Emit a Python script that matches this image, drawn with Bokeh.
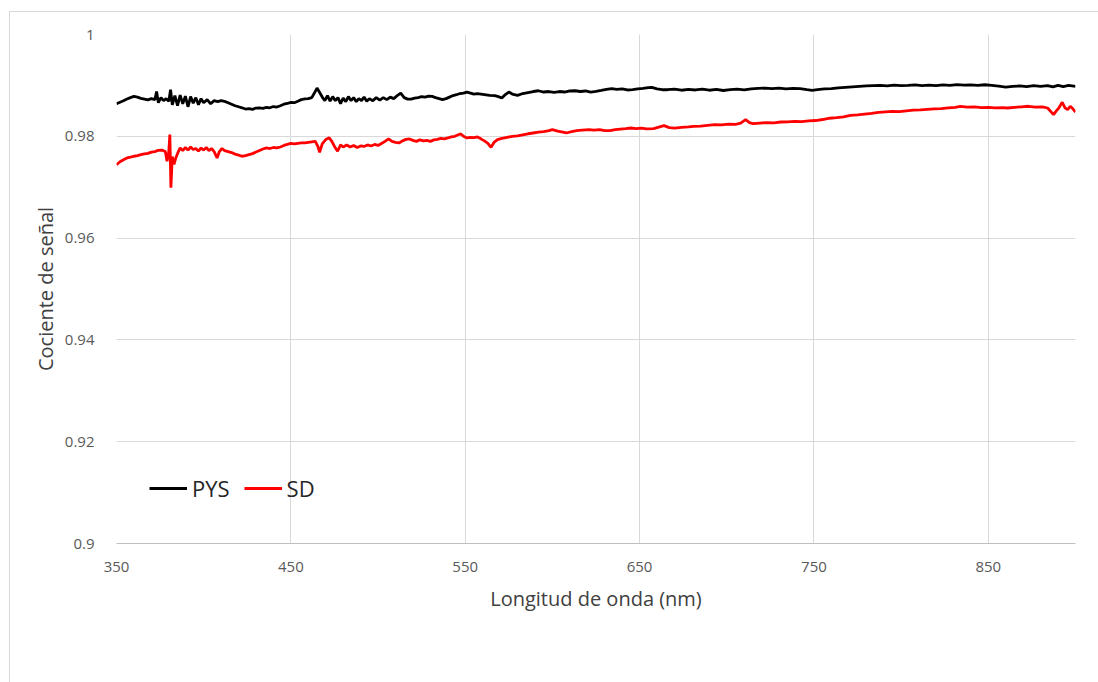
from bokeh.plotting import figure
from bokeh.models import FixedTicker, CustomJSTickFormatter, Legend, LegendItem
from bokeh.embed import file_html
from bokeh.resources import INLINE

# ---------------- data ----------------
pys_wl = [350, 352, 354, 356, 358, 360, 362, 364, 366, 368, 370, 372, 373, 374, 375.5, 377, 378.5, 380, 381, 382,
          383.5, 385, 386.5, 388, 389.5, 391, 392.5, 394, 395.5, 397, 398.5, 400, 402, 404, 406, 408, 410, 412, 414, 416,
          418, 420, 422, 424, 426, 428, 430, 432, 434, 436, 438, 440, 442, 444, 446, 448, 450, 452, 454, 456,
          458, 460, 462, 463.5, 465, 466.5, 468, 469.5, 471, 472.5, 474, 475.5, 477, 478.5, 480, 481.5, 483, 484.5, 486, 487.5,
          489, 490.5, 492, 493.5, 495, 497, 499, 501, 503, 505, 507, 509, 511, 513, 515, 517, 519, 521, 523, 525,
          527, 529, 531, 533, 535, 537, 539, 541, 543, 545, 547, 549, 551, 553, 555, 557, 559, 562, 564, 567,
          569, 571, 573, 575, 577, 580, 583, 586, 589, 592, 595, 598, 601, 604, 607, 610, 613, 616, 619, 622,
          625, 628, 631, 634, 637, 640, 643, 646, 649, 652, 655, 657, 660, 663, 666, 670, 674, 678, 682, 686,
          690, 694, 698, 702, 706, 710, 714, 718, 722, 726, 730, 734, 738, 742, 746, 749, 752, 756, 760, 764,
          768, 772, 776, 780, 784, 788, 792, 796, 800, 804, 808, 812, 816, 820, 824, 828, 832, 836, 840, 844,
          848, 852, 856, 860, 864, 868, 872, 876, 880, 884, 887, 890, 893, 896, 900]
pys = [0.98640, 0.98670, 0.98700, 0.98732, 0.98760, 0.98784, 0.98770, 0.98745, 0.98730, 0.98715, 0.98740, 0.98720, 0.98880, 0.98660, 0.98760, 0.98700, 0.98740, 0.98690, 0.98915, 0.98620,
       0.98800, 0.98600, 0.98810, 0.98640, 0.98790, 0.98580, 0.98780, 0.98650, 0.98760, 0.98620, 0.98740, 0.98660, 0.98720, 0.98640, 0.98700, 0.98680, 0.98700, 0.98686, 0.98660, 0.98630,
       0.98600, 0.98580, 0.98560, 0.98536, 0.98545, 0.98530, 0.98555, 0.98560, 0.98550, 0.98570, 0.98560, 0.98585, 0.98575, 0.98600, 0.98630, 0.98645, 0.98665, 0.98660, 0.98690, 0.98720,
       0.98735, 0.98740, 0.98760, 0.98850, 0.98948, 0.98860, 0.98771, 0.98700, 0.98800, 0.98690, 0.98780, 0.98700, 0.98760, 0.98641, 0.98750, 0.98680, 0.98780, 0.98700, 0.98760, 0.98680,
       0.98740, 0.98700, 0.98770, 0.98690, 0.98740, 0.98700, 0.98760, 0.98710, 0.98760, 0.98720, 0.98770, 0.98740, 0.98800, 0.98849, 0.98760, 0.98730, 0.98732, 0.98750, 0.98760, 0.98780,
       0.98770, 0.98790, 0.98784, 0.98760, 0.98740, 0.98719, 0.98740, 0.98770, 0.98800, 0.98817, 0.98840, 0.98850, 0.98869, 0.98850, 0.98830, 0.98837, 0.98830, 0.98815, 0.98804, 0.98800,
       0.98780, 0.98752, 0.98820, 0.98869, 0.98830, 0.98804, 0.98840, 0.98860, 0.98880, 0.98895, 0.98870, 0.98880, 0.98863, 0.98880, 0.98870, 0.98890, 0.98895, 0.98880, 0.98890, 0.98870,
       0.98882, 0.98900, 0.98920, 0.98935, 0.98920, 0.98930, 0.98910, 0.98915, 0.98930, 0.98940, 0.98955, 0.98961, 0.98930, 0.98915, 0.98915, 0.98925, 0.98905, 0.98920, 0.98910, 0.98925,
       0.98905, 0.98920, 0.98900, 0.98915, 0.98925, 0.98910, 0.98930, 0.98940, 0.98948, 0.98935, 0.98945, 0.98930, 0.98940, 0.98935, 0.98915, 0.98902, 0.98915, 0.98930, 0.98935, 0.98950,
       0.98960, 0.98970, 0.98980, 0.98990, 0.98995, 0.99000, 0.98990, 0.99005, 0.98995, 0.99000, 0.99010, 0.98995, 0.99005, 0.98995, 0.99010, 0.99000, 0.99015, 0.99005, 0.99010, 0.99000,
       0.99013, 0.99000, 0.98985, 0.98967, 0.98980, 0.98990, 0.98975, 0.98995, 0.98980, 0.98995, 0.98970, 0.99000, 0.98975, 0.99000, 0.98980]

sd_wl = [350, 352, 354, 356, 358, 360, 362, 364, 366, 368, 370, 372, 374, 376, 378, 379, 380, 380.6, 381.2, 382,
         383, 384, 385.5, 386.5, 388, 389.5, 391, 392.5, 394, 395.5, 397, 398.5, 400, 401.5, 403, 404.5, 406, 407.7, 409, 410.5,
         412, 414, 416, 418, 420, 422, 424, 426, 428, 430, 432, 434, 436, 438, 440, 442, 444, 446, 448, 450,
         452, 454, 456, 458, 460, 462, 464, 465.5, 466.5, 468, 470, 472, 473.5, 475, 476.8, 478.5, 480, 482, 484, 486,
         488, 490, 492, 494, 496, 498, 500, 502, 504, 506, 508, 510, 512, 514, 516, 518, 520, 522, 524, 526,
         528, 530, 532, 534, 536, 538, 540, 542, 544, 546, 547.5, 549, 551, 553, 555, 557, 559, 561, 563, 564.8,
         566.5, 568.5, 571, 574, 577, 580, 583, 586, 589, 592, 595, 598, 600, 603, 606, 608, 611, 614, 617, 621,
         624, 627, 630, 633, 636, 639, 642, 645, 648, 651, 654, 658, 661, 664, 667, 670, 674, 678, 681, 685,
         689, 693, 697, 701, 705, 708, 710.8, 713, 715, 719, 723, 727, 731, 735, 739, 743, 747, 751, 755, 759,
         763, 767, 771, 775, 779, 783, 787, 791, 795, 799, 803, 807, 811, 815, 819, 823, 827, 831, 834, 838,
         842, 846, 850, 854, 858, 861, 865, 869, 873, 877, 881, 884, 886, 887.4, 889, 890.5, 892.4, 894, 895.5, 897,
         898.5, 900]
sd = [0.97440, 0.97500, 0.97540, 0.97575, 0.97590, 0.97608, 0.97620, 0.97640, 0.97655, 0.97665, 0.97690, 0.97700, 0.97725, 0.97730, 0.97700, 0.97510, 0.97700, 0.98033, 0.96990, 0.97600,
      0.97450, 0.97575, 0.97700, 0.97771, 0.97720, 0.97780, 0.97730, 0.97790, 0.97740, 0.97760, 0.97710, 0.97770, 0.97730, 0.97780, 0.97720, 0.97760, 0.97700, 0.97575, 0.97700, 0.97760,
      0.97720, 0.97700, 0.97680, 0.97650, 0.97630, 0.97608, 0.97620, 0.97640, 0.97660, 0.97690, 0.97720, 0.97750, 0.97771, 0.97760, 0.97780, 0.97771, 0.97790, 0.97820, 0.97840, 0.97860,
      0.97850, 0.97860, 0.97870, 0.97870, 0.97880, 0.97890, 0.97900, 0.97800, 0.97686, 0.97850, 0.97935, 0.97970, 0.97900, 0.97800, 0.97706, 0.97830, 0.97790, 0.97830, 0.97790, 0.97820,
      0.97780, 0.97810, 0.97800, 0.97830, 0.97810, 0.97840, 0.97820, 0.97860, 0.97900, 0.97948, 0.97900, 0.97880, 0.97869, 0.97910, 0.97940, 0.97948, 0.97920, 0.97900, 0.97930, 0.97910,
      0.97920, 0.97900, 0.97930, 0.97940, 0.97960, 0.97950, 0.97967, 0.97990, 0.98000, 0.98030, 0.98046, 0.98000, 0.97967, 0.97980, 0.97975, 0.97987, 0.97950, 0.97910, 0.97860, 0.97784,
      0.97880, 0.97935, 0.97960, 0.97980, 0.98000, 0.98010, 0.98030, 0.98050, 0.98065, 0.98080, 0.98090, 0.98110, 0.98131, 0.98100, 0.98080, 0.98065, 0.98090, 0.98110, 0.98120, 0.98131,
      0.98120, 0.98130, 0.98110, 0.98111, 0.98130, 0.98140, 0.98150, 0.98163, 0.98150, 0.98160, 0.98145, 0.98150, 0.98180, 0.98210, 0.98170, 0.98160, 0.98175, 0.98185, 0.98196, 0.98200,
      0.98215, 0.98230, 0.98225, 0.98240, 0.98235, 0.98260, 0.98327, 0.98270, 0.98249, 0.98260, 0.98270, 0.98265, 0.98281, 0.98285, 0.98295, 0.98290, 0.98305, 0.98310, 0.98330, 0.98355,
      0.98365, 0.98380, 0.98410, 0.98420, 0.98435, 0.98450, 0.98470, 0.98480, 0.98490, 0.98485, 0.98500, 0.98515, 0.98520, 0.98530, 0.98540, 0.98545, 0.98560, 0.98570, 0.98588, 0.98575,
      0.98580, 0.98565, 0.98570, 0.98560, 0.98565, 0.98556, 0.98570, 0.98580, 0.98590, 0.98575, 0.98580, 0.98556, 0.98480, 0.98425, 0.98500, 0.98560, 0.98667, 0.98560, 0.98523, 0.98590,
      0.98540, 0.98477]

x_ticks = [350, 450, 550, 650, 750, 850]
y_ticks = [0.9, 0.92, 0.94, 0.96, 0.98, 1.0]
series_names = ["PYS", "SD"]
x_title = "Longitud de onda (nm)"
y_title = "Cociente de señal"

FONT = "Open Sans"
GRID = "#d9d9d9"
TXT = "#595959"

p = figure(width=1089, height=671, x_range=(350, 900), y_range=(0.9, 1.0),
           output_backend="svg", toolbar_location=None,
           min_border_left=106, min_border_right=24, min_border_top=22, min_border_bottom=140)
p.margin = (11, 0, 0, 9)
p.styles = {"border-left": "1px solid #d9d9d9", "border-top": "1px solid #d9d9d9"}
p.outline_line_color = None
p.background_fill_color = "white"
p.border_fill_color = "white"

r1 = p.line(pys_wl, pys, line_color="#000000", line_width=2.8)
r2 = p.line(sd_wl, sd, line_color="#ff0000", line_width=2.8)

p.xaxis.ticker = FixedTicker(ticks=x_ticks)
p.yaxis.ticker = FixedTicker(ticks=y_ticks)
p.yaxis.formatter = CustomJSTickFormatter(code="return String(parseFloat(tick.toFixed(2)));")

p.xgrid.ticker = FixedTicker(ticks=x_ticks)
p.xgrid.grid_line_color = GRID
p.ygrid.grid_line_color = GRID
p.xgrid.grid_line_width = 1
p.ygrid.grid_line_width = 1

for ax in (p.xaxis[0], p.yaxis[0]):
    ax.major_tick_line_color = None
    ax.minor_tick_line_color = None
    ax.major_label_text_font = FONT
    ax.major_label_text_font_size = "15px"
    ax.major_label_text_color = TXT
    ax.axis_label_text_font = FONT
    ax.axis_label_text_font_size = "20px"
    ax.axis_label_text_font_style = "normal"
    ax.axis_label_text_color = "#404040"

p.xaxis.axis_line_color = "#bfbfbf"
p.yaxis.axis_line_color = None
p.xaxis.major_label_standoff = 12
p.yaxis.major_label_standoff = 16
p.xaxis.axis_label = x_title
p.yaxis.axis_label = y_title
p.xaxis.axis_label_standoff = 10
p.yaxis.axis_label_standoff = 3

legend = Legend(items=[LegendItem(label=series_names[0], renderers=[r1]),
                       LegendItem(label=series_names[1], renderers=[r2])],
                orientation="horizontal", location=(33, 40))
legend.label_text_font = FONT
legend.label_text_font_size = "22px"
legend.label_text_color = "#262626"
legend.glyph_width = 38
legend.glyph_height = 24
legend.label_standoff = 5
legend.spacing = 14
legend.padding = 0
legend.margin = 0
legend.border_line_color = None
legend.background_fill_alpha = 0
p.add_layout(legend, "center")

open("out.html", "w").write(file_html(p, INLINE))
